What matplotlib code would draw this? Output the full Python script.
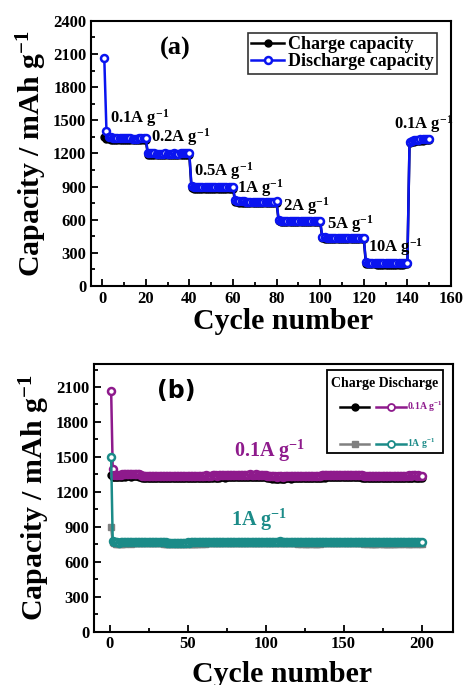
import numpy as np
import matplotlib.pyplot as plt
from matplotlib.lines import Line2D
from matplotlib.patches import Rectangle
from matplotlib.ticker import MultipleLocator

plt.rcParams['font.family'] = ['Liberation Serif', 'DejaVu Serif']
plt.rcParams['font.weight'] = 'bold'
plt.rcParams['mathtext.fontset'] = 'custom'
plt.rcParams['mathtext.rm'] = 'Liberation Serif:bold'
plt.rcParams['mathtext.it'] = 'Liberation Serif:bold'
plt.rcParams['mathtext.bf'] = 'Liberation Serif:bold'

# ---- rate test (a) ----
cyc_a = np.arange(1, 151)

rate_discharge = [
    2060, 1400, 1350, 1346, 1343, 1341, 1340, 1339, 1338, 1338, 1337, 1336, 1336, 1335, 1335, 1335, 1336, 1337, 1338, 1340,
    1203, 1201, 1200, 1200, 1199, 1199, 1198, 1199, 1200, 1199, 1198, 1199, 1200, 1199, 1199, 1200, 1200, 1201, 1200, 1200,
    902, 900, 899, 898, 898, 897, 898, 897, 896, 897, 898, 897, 896, 897, 898, 898, 897, 898, 899, 900,
    780, 772, 768, 766, 765, 764, 764, 763, 763, 764, 763, 762, 763, 763, 764, 763, 763, 764, 764, 765,
    595, 592, 590, 589, 589, 588, 588, 587, 588, 588, 587, 587, 588, 588, 589, 588, 588, 589, 589, 590,
    445, 440, 438, 437, 436, 436, 436, 435, 435, 436, 435, 435, 436, 436, 435, 436, 436, 437, 437, 438,
    215, 210, 208, 207, 206, 206, 205, 205, 205, 204, 205, 205, 204, 204, 205, 205, 205, 204, 205, 205,
    1300, 1312, 1318, 1322, 1325, 1327, 1329, 1330, 1332, 1333,
]
rate_charge = [
    1345, 1335, 1328, 1326, 1325, 1324, 1324, 1323, 1323, 1322, 1322, 1322, 1321, 1321, 1321, 1322, 1322, 1323, 1323, 1324,
    1188, 1186, 1185, 1185, 1184, 1184, 1184, 1183, 1184, 1184, 1183, 1184, 1184, 1185, 1184, 1185, 1185, 1185, 1186, 1186,
    885, 882, 880, 880, 879, 879, 878, 879, 878, 879, 878, 879, 879, 878, 879, 879, 880, 880, 880, 881,
    762, 757, 754, 752, 751, 751, 750, 750, 750, 749, 750, 750, 749, 750, 750, 751, 750, 751, 751, 752,
    585, 581, 579, 578, 578, 577, 577, 577, 576, 577, 577, 576, 577, 577, 578, 577, 578, 578, 578, 579,
    430, 426, 424, 423, 423, 422, 422, 422, 421, 422, 422, 421, 422, 422, 422, 423, 423, 423, 423, 424,
    200, 197, 196, 195, 195, 194, 194, 194, 194, 193, 194, 194, 193, 194, 194, 194, 194, 194, 195, 195,
    1290, 1300, 1306, 1310, 1313, 1315, 1317, 1318, 1320, 1321,
]

rate_labels = ['0.1A g$^{-1}$', '0.2A g$^{-1}$', '0.5A g$^{-1}$', '1A g$^{-1}$',
               '2A g$^{-1}$', '5A g$^{-1}$', '10A g$^{-1}$', '0.1A g$^{-1}$']
label_x = [3.5, 22.5, 42, 62, 83, 103, 122, 134]
label_y = [1520, 1350, 1045, 885, 725, 560, 355, 1465]

# ---- long cycling (b) ----
cyc_b = np.arange(1, 201)

dis_01 = [
    2065, 1400, 1348, 1345, 1346, 1347, 1348, 1349, 1350, 1349, 1350, 1351, 1350, 1349, 1350, 1351, 1352, 1350, 1349, 1348,
    1340, 1338, 1337, 1336, 1336, 1335, 1335, 1336, 1335, 1334, 1335, 1336, 1335, 1334, 1335, 1336, 1337, 1336, 1335, 1336,
    1337, 1338, 1337, 1336, 1337, 1338, 1339, 1338, 1337, 1338, 1339, 1340, 1339, 1338, 1339, 1340, 1339, 1338, 1339, 1340,
    1340, 1341, 1340, 1339, 1340, 1341, 1342, 1341, 1340, 1341, 1342, 1343, 1342, 1341, 1342, 1343, 1344, 1343, 1344, 1345,
    1346, 1347, 1346, 1347, 1348, 1347, 1346, 1347, 1348, 1349, 1348, 1347, 1348, 1349, 1348, 1347, 1346, 1347, 1346, 1345,
    1336, 1334, 1333, 1332, 1333, 1332, 1331, 1332, 1333, 1332, 1331, 1332, 1333, 1334, 1333, 1332, 1333, 1334, 1335, 1334,
    1336, 1337, 1338, 1337, 1338, 1339, 1338, 1337, 1338, 1339, 1340, 1339, 1338, 1339, 1340, 1341, 1342, 1341, 1342, 1343,
    1344, 1345, 1344, 1343, 1344, 1345, 1346, 1345, 1344, 1345, 1346, 1345, 1344, 1345, 1346, 1345, 1344, 1343, 1344, 1343,
    1342, 1341, 1340, 1338, 1336, 1335, 1334, 1335, 1334, 1333, 1334, 1335, 1334, 1333, 1334, 1335, 1334, 1333, 1334, 1335,
    1334, 1333, 1334, 1335, 1336, 1335, 1336, 1337, 1338, 1339, 1340, 1341, 1340, 1341, 1342, 1341, 1340, 1341, 1340, 1340,
]
chg_01 = [
    1345, 1330, 1328, 1327, 1328, 1329, 1330, 1331, 1332, 1331, 1332, 1333, 1332, 1331, 1332, 1333, 1334, 1332, 1331, 1330,
    1322, 1320, 1319, 1318, 1318, 1317, 1317, 1318, 1317, 1316, 1317, 1318, 1317, 1316, 1317, 1318, 1319, 1318, 1317, 1318,
    1319, 1320, 1319, 1318, 1319, 1320, 1321, 1320, 1319, 1320, 1321, 1322, 1321, 1320, 1321, 1322, 1321, 1320, 1321, 1322,
    1322, 1323, 1322, 1321, 1322, 1323, 1324, 1323, 1322, 1323, 1324, 1325, 1324, 1323, 1324, 1325, 1326, 1325, 1326, 1327,
    1328, 1329, 1328, 1329, 1330, 1329, 1328, 1329, 1330, 1331, 1330, 1329, 1330, 1331, 1330, 1329, 1328, 1329, 1328, 1327,
    1318, 1316, 1315, 1314, 1315, 1314, 1313, 1314, 1315, 1314, 1313, 1314, 1315, 1316, 1315, 1314, 1315, 1316, 1317, 1316,
    1318, 1319, 1320, 1319, 1320, 1321, 1320, 1319, 1320, 1321, 1322, 1321, 1320, 1321, 1322, 1323, 1324, 1323, 1324, 1325,
    1326, 1327, 1326, 1325, 1326, 1327, 1328, 1327, 1326, 1327, 1328, 1327, 1326, 1327, 1328, 1327, 1326, 1325, 1326, 1325,
    1324, 1323, 1322, 1320, 1318, 1317, 1316, 1317, 1316, 1315, 1316, 1317, 1316, 1315, 1316, 1317, 1316, 1315, 1316, 1317,
    1316, 1315, 1316, 1317, 1318, 1317, 1318, 1319, 1320, 1321, 1322, 1323, 1322, 1323, 1324, 1323, 1322, 1323, 1322, 1322,
]
dis_1 = [
    1500, 780, 768, 766, 765, 764, 765, 766, 767, 766, 767, 768, 767, 766, 767, 768, 769, 768, 767, 768,
    770, 771, 772, 771, 772, 773, 772, 771, 772, 773, 772, 771, 770, 768, 766, 765, 764, 763, 762, 763,
    762, 761, 762, 763, 762, 763, 764, 763, 764, 765, 764, 765, 766, 765, 766, 765, 766, 767, 766, 767,
    766, 767, 768, 767, 768, 767, 768, 769, 768, 769, 768, 769, 768, 769, 770, 769, 770, 769, 770, 771,
    770, 771, 772, 771, 772, 771, 772, 773, 772, 773, 772, 771, 772, 773, 772, 771, 772, 771, 772, 771,
    770, 771, 770, 771, 772, 773, 772, 773, 774, 773, 772, 773, 772, 771, 770, 769, 768, 767, 768, 767,
    766, 767, 766, 767, 766, 765, 766, 767, 766, 767, 766, 765, 766, 767, 766, 767, 768, 767, 768, 767,
    768, 769, 768, 769, 768, 769, 770, 769, 770, 769, 770, 769, 770, 769, 768, 769, 768, 767, 768, 767,
    768, 767, 766, 767, 766, 767, 766, 765, 766, 765, 766, 767, 766, 767, 766, 765, 766, 765, 766, 765,
    766, 765, 766, 767, 766, 767, 766, 767, 766, 767, 766, 765, 766, 767, 766, 767, 766, 767, 766, 766,
]
chg_1 = [
    900, 765, 758, 756, 755, 754, 755, 756, 757, 756, 757, 758, 757, 756, 757, 758, 759, 758, 757, 758,
    760, 761, 762, 761, 762, 763, 762, 761, 762, 763, 762, 761, 760, 758, 756, 755, 754, 753, 752, 753,
    752, 751, 752, 753, 752, 753, 754, 753, 754, 755, 754, 755, 756, 755, 756, 755, 756, 757, 756, 757,
    756, 757, 758, 757, 758, 757, 758, 759, 758, 759, 758, 759, 758, 759, 760, 759, 760, 759, 760, 761,
    760, 761, 762, 761, 762, 761, 762, 763, 762, 763, 762, 761, 762, 763, 762, 761, 762, 761, 762, 761,
    760, 761, 760, 761, 762, 763, 762, 763, 764, 763, 762, 763, 762, 761, 760, 759, 758, 757, 758, 757,
    756, 757, 756, 757, 756, 755, 756, 757, 756, 757, 756, 755, 756, 757, 756, 757, 758, 757, 758, 757,
    758, 759, 758, 759, 758, 759, 760, 759, 760, 759, 760, 759, 760, 759, 758, 759, 758, 757, 758, 757,
    758, 757, 756, 757, 756, 757, 756, 755, 756, 755, 756, 757, 756, 757, 756, 755, 756, 755, 756, 755,
    756, 755, 756, 757, 756, 757, 756, 757, 756, 757, 756, 755, 756, 757, 756, 757, 756, 757, 756, 756,
]

purple = '#8e1a8c'
teal = '#1b8b88'

fig = plt.figure(figsize=(4.63, 6.85), dpi=100)
ax1 = fig.add_axes([0.197, 0.5825, 0.777, 0.387])
ax2 = fig.add_axes([0.203, 0.078, 0.775, 0.391])


def style_axes(ax, xpad, xlab_x):
    for sp in ax.spines.values():
        sp.set_linewidth(1.5)
    ax.tick_params(which='both', direction='in', top=False, right=False,
                   labelsize=12, width=1.3)
    ax.tick_params(which='major', length=5)
    ax.tick_params(which='minor', length=3)
    for lab in ax.get_xticklabels() + ax.get_yticklabels():
        lab.set_fontweight('bold')
    ax.set_xlabel('Cycle number', fontsize=21.5, fontweight='bold', labelpad=xpad)
    ax.xaxis.label.set_x(xlab_x)
    ax.set_ylabel('Capacity / mAh g$^{-1}$', fontsize=21.5, fontweight='bold', labelpad=3)


# (a)
ax1.plot(cyc_a, rate_charge, '-o', color='black', lw=1.8, ms=5,
         label='Charge capacity')
ax1.plot(cyc_a, rate_discharge, '-o', color='#0a14f0', lw=1.8, ms=5,
         mfc='white', mew=1.8, label='Discharge capacity')
for t, x, y in zip(rate_labels, label_x, label_y):
    ax1.text(x, y, t, fontsize=12, fontweight='bold', va='center', ha='left')
ax1.text(0.233, 0.895, '(a)', transform=ax1.transAxes, fontsize=19,
         fontweight='bold', ha='center', va='center')
ax1.set_xlim(-5, 160)
ax1.set_ylim(0, 2400)
ax1.xaxis.set_major_locator(MultipleLocator(20))
ax1.xaxis.set_minor_locator(MultipleLocator(10))
ax1.yaxis.set_major_locator(MultipleLocator(300))
ax1.yaxis.set_minor_locator(MultipleLocator(150))
leg = ax1.legend(loc='upper right', bbox_to_anchor=(0.961, 0.955), fontsize=13,
                 handlelength=1.8, handletextpad=0.2, borderpad=0.2,
                 labelspacing=0.0, frameon=True, fancybox=False, borderaxespad=0)
leg.get_frame().set_edgecolor('black')
leg.get_frame().set_linewidth(1.2)
style_axes(ax1, 1, 0.533)

# (b)
ax2.plot(cyc_b, chg_01, '-o', color='black', lw=1.8, ms=5)
ax2.plot(cyc_b, dis_01, '-o', color=purple, lw=1.8, ms=5, mfc='white', mew=1.8)
ax2.plot(cyc_b, chg_1, '-s', color='#808080', lw=1.8, ms=5)
ax2.plot(cyc_b, dis_1, '-o', color=teal, lw=1.8, ms=5, mfc='white', mew=1.8)
ax2.text(79.5, 1550, '0.1A g$^{-1}$', color=purple, fontsize=14.5,
         fontweight='bold', va='center', ha='left')
ax2.text(78, 960, '1A g$^{-1}$', color=teal, fontsize=14.5,
         fontweight='bold', va='center', ha='left')
ax2.text(0.23, 0.9, '(b)', transform=ax2.transAxes, fontsize=17,
         fontweight='bold', ha='center', va='center', family='DejaVu Sans')
ax2.set_xlim(-10, 220)
ax2.set_ylim(0, 2300)
ax2.xaxis.set_major_locator(MultipleLocator(50))
ax2.xaxis.set_minor_locator(MultipleLocator(25))
ax2.yaxis.set_major_locator(MultipleLocator(300))
ax2.yaxis.set_minor_locator(MultipleLocator(150))
style_axes(ax2, 6, 0.523)

# hand-built legend box for (b)
tr = ax2.transAxes
ax2.add_patch(Rectangle((0.649, 0.667), 0.323, 0.311, transform=tr, fill=False,
                        edgecolor='black', lw=1.3, zorder=5))
ax2.text(0.811, 0.928, 'Charge Discharge', transform=tr, fontsize=10,
         fontweight='bold', ha='center', va='center', zorder=6)
rows = [(0.84, 'black', 'o', 'black', purple, '0.1A g$^{-1}$'),
        (0.70, '#808080', 's', '#808080', teal, '1A g$^{-1}$')]
for y, c1, m1, fc1, c2, txt in rows:
    ax2.add_line(Line2D([0.685, 0.767], [y, y], transform=tr, color=c1, lw=1.8,
                        zorder=6))
    ax2.add_line(Line2D([0.727], [y], transform=tr, color=c1, marker=m1, ms=5,
                        mfc=fc1, zorder=6))
    ax2.add_line(Line2D([0.787, 0.869], [y, y], transform=tr, color=c2, lw=1.8,
                        zorder=6))
    ax2.add_line(Line2D([0.827], [y], transform=tr, color=c2, marker='o', ms=5,
                        mfc='white', mew=1.3, zorder=6))
    ax2.text(0.871, y, txt, transform=tr, color=c2, fontsize=7,
             fontweight='bold', ha='left', va='center', zorder=6)

fig.savefig('out.png', dpi=100)
